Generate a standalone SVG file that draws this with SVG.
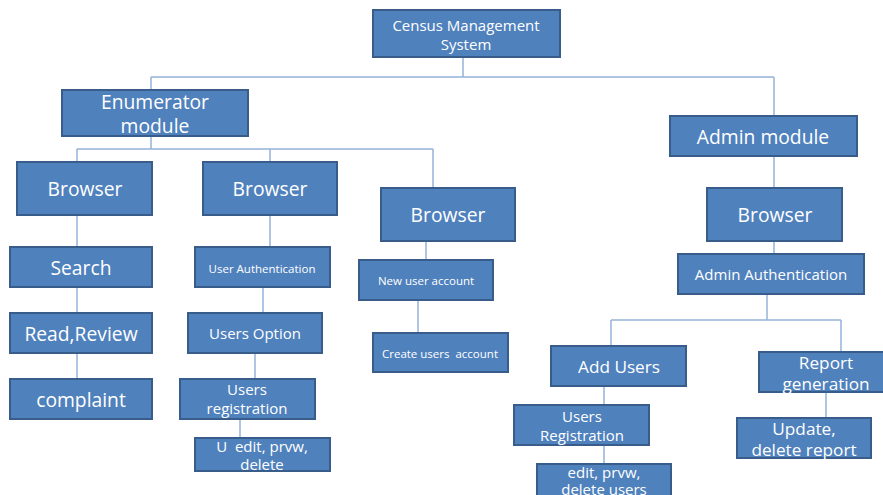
<svg xmlns="http://www.w3.org/2000/svg" width="883" height="495" viewBox="0 0 883 495">
<style>
.n rect{fill:#4f81bd;stroke:#385d8a;stroke-width:2}
.n text{fill:#fff;font-family:"Open Sans","Liberation Sans",sans-serif;text-anchor:middle;dominant-baseline:central}
.l{font-size:19.3px}.m{font-size:17.2px}.s{font-size:11.5px}.t{font-size:15px}
#c path{fill:none;stroke:#95b3d7;stroke-width:1.5}
</style>
<rect width="883" height="495" fill="#fff"/>
<g id="c">
<path d="M463 57V77M151 77H774M151 77V90M774 77V116"/>
<path d="M151 136V149M77 149H433M77 149V162M270 149V162M433 149V188"/>
<path d="M774 156V188M774 241V254M767 294V320M611 320H841M611 320V346M841 320V352"/>
<path d="M77 215V247M77 287V313M77 353V379"/>
<path d="M270 215V247M263 287V313M255 353V379M240 419V438"/>
<path d="M426 241V260M418 300V333"/>
<path d="M604 386V405M604 445V464M826 392V418"/>
</g>
<g id="root" class="n"><rect x="373" y="10" width="187" height="47"/><text class="t" x="466" y="25">Census Management</text><text class="t" x="466" y="44">System</text></g>
<g id="enum" class="n"><rect x="62" y="90" width="186" height="46"/><text class="l" x="155" y="101">Enumerator</text><text class="l" x="155" y="125">module</text></g>
<g id="admin" class="n"><rect x="670" y="116" width="187" height="40"/><text class="l" x="763" y="136">Admin module</text></g>
<g id="b1" class="n"><rect x="17" y="162" width="135" height="53"/><text class="l" x="85" y="188">Browser</text></g>
<g id="b2" class="n"><rect x="203" y="162" width="134" height="53"/><text class="l" x="270" y="188">Browser</text></g>
<g id="b3" class="n"><rect x="381" y="188" width="134" height="53"/><text class="l" x="448" y="214">Browser</text></g>
<g id="b4" class="n"><rect x="707" y="188" width="135" height="53"/><text class="l" x="775" y="214">Browser</text></g>
<g id="search" class="n"><rect x="10" y="247" width="142" height="40"/><text class="l" x="81" y="267">Search</text></g>
<g id="read" class="n"><rect x="10" y="313" width="142" height="40"/><text class="l" x="81" y="333">Read,Review</text></g>
<g id="complaint" class="n"><rect x="10" y="379" width="142" height="40"/><text class="l" x="81" y="399">complaint</text></g>
<g id="uauth" class="n"><rect x="195" y="247" width="135" height="40"/><text class="s" x="262" y="268">User Authentication</text></g>
<g id="uopt" class="n"><rect x="188" y="313" width="134" height="40"/><text class="t" x="255" y="333">Users Option</text></g>
<g id="ureg" class="n"><rect x="180" y="379" width="135" height="40"/><text class="t" x="247" y="389">Users</text><text class="t" x="247" y="408">registration</text></g>
<g id="uedit" class="n"><rect x="195" y="438" width="135" height="33"/><text class="t" x="262" y="446">U&#160; edit, prvw,</text><text class="t" x="262" y="464">delete</text></g>
<g id="newacc" class="n"><rect x="359" y="260" width="134" height="40"/><text class="s" x="426" y="280">New user account</text></g>
<g id="create" class="n"><rect x="373" y="333" width="135" height="39"/><text class="s" x="440" y="353">Create users&#160; account</text></g>
<g id="aauth" class="n"><rect x="678" y="254" width="186" height="40"/><text class="t" x="771" y="274">Admin Authentication</text></g>
<g id="addu" class="n"><rect x="551" y="346" width="135" height="40"/><text class="m" x="619" y="366">Add Users</text></g>
<g id="report" class="n"><rect x="759" y="352" width="130" height="40"/><text class="m" x="826" y="362">Report</text><text class="m" x="826" y="383">generation</text></g>
<g id="areg" class="n"><rect x="514" y="405" width="135" height="40"/><text class="t" x="582" y="416">Users</text><text class="t" x="582" y="435">Registration</text></g>
<g id="aedit" class="n"><rect x="537" y="464" width="134" height="40"/><text class="t" x="604" y="472">edit, prvw,</text><text class="t" x="604" y="489">delete users</text></g>
<g id="upd" class="n"><rect x="737" y="418" width="134" height="40"/><text class="m" x="804" y="428">Update,</text><text class="m" x="804" y="449">delete report</text></g>
</svg>
